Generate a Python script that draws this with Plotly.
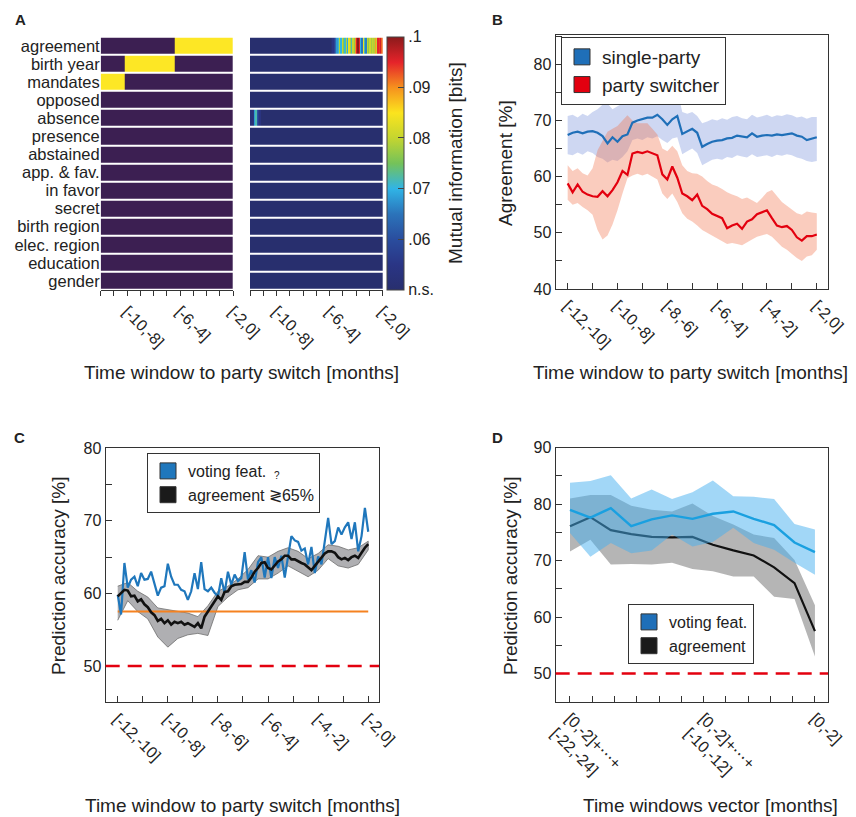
import plotly.graph_objects as go

W, H = 856, 817
OFF = 8  # the page places the figure 8 px in from the top-left corner
def fx(p): return (p - OFF) / W
def fy(p): return 1 - (p - OFF) / H

FONT = "Arial, 'Liberation Sans', sans-serif"
AX = "#333333"
TXT = "#222222"

# ---------------- Panel A data ----------------
features = ["agreement", "birth year", "mandates", "opposed", "absence", "presence",
            "abstained", "app. & fav.", "in favor", "secret", "birth region",
            "elec. region", "education", "gender"]
cell_centers = [round(-11.95 + 0.1 * j, 2) for j in range(100)]
# left map: windows (months) where the feature is significant
sig_ranges = {"agreement": (-6.4, -2.0), "birth year": (-10.2, -6.4), "mandates": (-12.0, -10.2)}
# right map: mutual information values [bits]
mi_floor = 0.05
agreement_mi = [0.052, 0.055, 0.058, 0.063, 0.068, 0.071, 0.079, 0.070, 0.080, 0.076,
                0.071, 0.079, 0.069, 0.083, 0.078, 0.072, 0.080, 0.077, 0.090, 0.096,
                0.100, 0.095, 0.070, 0.065, 0.084, 0.072, 0.066, 0.080, 0.077, 0.081,
                0.078, 0.080, 0.079, 0.089, 0.080, 0.095, 0.094, 0.096, 0.092]
absence_mi = [0.052, 0.052, 0.054, 0.068, 0.072, 0.061, 0.057, 0.054]

# ---------------- Panel B data ----------------
months_b = [round(-12 + 0.2 * i, 1) for i in range(51)]
single_mean = [67.4, 67.8, 68.0, 67.7, 68.0, 68.1, 67.8, 67.2, 65.9, 67.0,
               66.2, 67.2, 67.5, 69.6, 70.0, 70.3, 70.5, 70.5, 71.0, 70.2,
               69.2, 70.2, 70.8, 67.6, 68.0, 68.5, 67.8, 65.3, 65.8, 66.2,
               66.4, 66.5, 66.8, 66.9, 67.3, 67.2, 67.0, 67.7, 67.1, 67.3,
               67.4, 67.3, 67.5, 67.4, 67.6, 67.7, 67.3, 67.1, 66.5, 66.8, 67.0]
single_up = [70.8, 71.0, 70.5, 71.2, 70.8, 71.5, 72.0, 72.8, 73.0, 72.0,
             72.5, 73.0, 74.5, 75.0, 75.3, 75.0, 75.5, 75.2, 75.8, 75.0,
             74.5, 75.3, 75.5, 71.5, 71.2, 71.5, 70.8, 69.5, 69.8, 70.2,
             70.0, 70.4, 70.1, 70.6, 70.8, 70.4, 70.2, 71.0, 70.5, 70.8,
             71.0, 70.6, 70.9, 70.8, 71.1, 70.9, 70.5, 70.7, 70.3, 70.6, 70.6]
single_lo = [64.0, 63.8, 64.3, 63.9, 64.5, 64.2, 63.5, 63.2, 62.5, 63.0,
             62.8, 63.5, 64.5, 66.5, 66.8, 66.5, 67.0, 66.8, 67.2, 66.5,
             66.0, 66.8, 67.0, 64.0, 64.5, 65.0, 64.2, 62.0, 62.5, 63.0,
             63.2, 63.0, 63.5, 63.3, 63.8, 63.6, 63.4, 64.0, 63.5, 63.7,
             63.8, 63.5, 63.9, 63.7, 64.0, 63.8, 63.4, 63.2, 62.8, 62.6, 62.8]
switch_mean = [58.8, 57.2, 58.6, 57.3, 56.8, 56.5, 56.4, 57.4, 56.5, 57.6,
               59.0, 61.0, 60.3, 64.1, 64.4, 64.2, 64.5, 64.1, 63.8, 60.4,
               59.5, 61.8, 59.8, 57.0, 56.5, 55.8, 56.8, 54.8, 54.2, 53.4,
               53.0, 52.6, 50.8, 51.3, 51.6, 50.7, 52.0, 52.4, 53.3, 53.7,
               54.0, 52.6, 51.3, 51.0, 51.2, 50.5, 49.2, 48.6, 49.4, 49.4, 49.7]
switch_up = [62.0, 61.0, 61.5, 60.6, 60.2, 61.5, 64.7, 66.5, 68.0, 68.5,
             69.0, 70.0, 70.9, 70.0, 69.5, 69.5, 69.5, 68.5, 67.5, 65.0,
             64.5, 65.5, 64.5, 62.0, 61.0, 60.6, 60.5, 60.0, 59.2, 58.6,
             58.3, 57.8, 57.2, 56.8, 56.5, 56.0, 56.3, 55.8, 55.3, 56.2,
             57.2, 57.6, 56.5, 55.5, 54.8, 54.1, 53.5, 53.2, 53.8, 53.6, 53.5]
switch_lo = [55.9, 55.0, 55.3, 54.6, 54.0, 53.2, 50.5, 48.8, 49.5, 51.5,
             54.0, 57.0, 59.7, 60.2, 60.5, 60.2, 60.5, 60.0, 59.5, 57.0,
             56.0, 57.0, 55.5, 53.5, 52.5, 52.0, 51.3, 50.5, 49.9, 49.5,
             49.0, 48.5, 48.0, 48.2, 48.0, 47.8, 48.3, 48.8, 49.3, 49.6,
             49.8, 49.3, 48.5, 47.5, 47.0, 46.3, 45.5, 45.0, 45.8, 46.0, 47.0]

# ---------------- Panel C data ----------------
months_c = [round(-12 + i * 10 / 75, 3) for i in range(76)]
voting_acc = [59.8, 57.1, 64.2, 60.8, 61.9, 62.3, 61.0, 62.8, 61.9, 62.0,
              63.0, 61.5, 59.7, 60.8, 61.0, 64.1, 62.3, 61.2, 61.2, 60.5,
              60.3, 59.1, 60.3, 62.8, 60.6, 64.3, 60.6, 60.3, 60.8, 60.1,
              59.6, 62.1, 60.1, 63.0, 61.2, 62.6, 61.7, 62.1, 65.7, 61.9,
              63.2, 61.5, 64.3, 65.0, 62.2, 65.0, 62.1, 65.0, 63.5, 65.2,
              62.2, 65.1, 67.9, 67.3, 67.1, 65.9, 66.2, 64.0, 66.4, 62.8,
              65.1, 64.0, 67.4, 70.4, 66.8, 67.2, 69.1, 68.1, 69.1, 69.8,
              67.5, 69.8, 65.8, 67.9, 71.8, 68.5]
agree_acc = [59.6, 60.0, 60.5, 60.4, 59.6, 59.7, 58.9, 59.2, 58.5, 58.1,
             57.4, 57.0, 56.2, 56.5, 55.9, 56.3, 55.7, 56.1, 55.9, 56.1,
             55.7, 55.9, 55.7, 55.4, 55.9, 55.2, 56.8, 57.5, 58.3, 59.0,
             59.6, 59.1, 60.2, 60.3, 61.0, 61.2, 61.2, 61.3, 61.6, 61.6,
             62.2, 63.0, 63.5, 64.2, 64.3, 63.5, 63.3, 63.8, 64.4, 64.7,
             65.2, 65.2, 64.7, 64.7, 64.4, 64.2, 64.0, 63.6, 63.2, 63.8,
             64.4, 64.9, 65.5, 65.8, 65.8, 65.6, 65.0, 64.7, 64.9, 64.6,
             65.0, 65.2, 64.9, 65.6, 66.3, 66.8]
months_c_band = [round(-12 + 0.4 * i, 1) for i in range(26)]
agree_acc_up = [61.0, 61.5, 60.3, 59.5, 58.0, 57.8, 57.5, 57.3, 56.8, 58.3,
                60.3, 61.0, 62.0, 63.3, 65.2, 65.0, 65.8, 66.3, 65.8, 64.8,
                65.5, 66.7, 66.5, 66.0, 66.3, 67.2]
agree_acc_lo = [56.3, 59.0, 57.5, 56.5, 54.0, 52.6, 53.8, 54.3, 54.5, 54.2,
                58.2, 59.5, 60.5, 60.8, 62.0, 62.0, 62.8, 63.8, 63.0, 62.3,
                63.2, 64.8, 63.8, 63.5, 64.0, 66.0]
baseline_c = 57.5
chance = 50

# ---------------- Panel D data ----------------
vec_idx = list(range(13))
voting_vec = [79.0, 77.6, 79.3, 76.1, 77.3, 78.0, 77.4, 78.3, 78.7, 77.4, 76.3, 73.2, 71.5]
voting_vec_up = [83.8, 84.1, 85.1, 81.0, 82.6, 80.9, 82.1, 84.2, 81.4, 81.3, 80.9, 76.5, 75.5]
voting_vec_lo = [74.9, 70.7, 73.1, 71.3, 71.8, 74.6, 72.5, 73.3, 75.8, 73.1, 71.9, 69.6, 67.5]
agree_vec = [76.1, 77.7, 75.4, 74.7, 74.2, 74.1, 74.2, 72.8, 71.8, 70.9, 68.8, 66.0, 57.5]
agree_vec_up = [81.0, 81.6, 81.6, 79.7, 79.0, 78.7, 80.1, 77.9, 76.4, 74.6, 74.0, 70.1, 62.1]
agree_vec_lo = [71.6, 73.7, 69.3, 69.4, 69.3, 69.6, 68.5, 68.1, 67.2, 67.2, 63.6, 63.2, 53.0]
vec_tick_text = ["[0,-2]+⋯+<br>[-22,-24]", "", "", "", "", "",
                 "[0,-2]+⋯+<br>[-10,-12]", "", "", "", "", "[0,-2]"]

# ---------------- build figure ----------------
z_left, z_right = [], []
for f in features:
    rng = sig_ranges.get(f)
    z_left.append([1 if rng and rng[0] <= c < rng[1] else 0 for c in cell_centers])
    row = [mi_floor] * len(cell_centers)
    if f == "agreement":
        row[len(row) - len(agreement_mi):] = agreement_mi
    if f == "absence":
        row[:len(absence_mi)] = absence_mi
    z_right.append(row)

jet = [[0.0, "#282f6e"], [0.1, "#2a3585"], [0.2, "#2a4d9e"], [0.3, "#2b73ba"],
       [0.4, "#30b4e6"], [0.5, "#74c25a"], [0.6, "#c4d530"], [0.7, "#fbe41e"],
       [0.8, "#f6911e"], [0.9, "#e5232a"], [1.0, "#8b1a1b"]]

fig = go.Figure()
fig.add_trace(go.Heatmap(z=z_left, x=cell_centers, y=features, xaxis="x", yaxis="y",
                         colorscale=[[0, "#3c1f52"], [1, "#fde725"]], zmin=0, zmax=1,
                         showscale=False, ygap=2, hoverinfo="skip"))
fig.add_trace(go.Heatmap(z=z_right, x=cell_centers, y=features, xaxis="x2", yaxis="y2",
                         colorscale=jet, zmin=0.05, zmax=0.1, ygap=2, hoverinfo="skip",
                         colorbar=dict(x=fx(386.7), xanchor="left", xpad=0, y=fy(36.7),
                                       yanchor="top", ypad=0, len=(290 - 36.7) / H,
                                       thickness=17, outlinecolor="#444", outlinewidth=1,
                                       ticks="inside", ticklen=6, tickcolor="#444",
                                       tickvals=[0.05, 0.06, 0.07, 0.08, 0.09, 0.1],
                                       ticktext=["n.s.", ".06", ".07", ".08", ".09", ".1"],
                                       tickfont=dict(size=16, color=TXT))))

def band(x, up, lo, color, xa, ya, line=None):
    return go.Scatter(x=list(x) + list(x)[::-1], y=list(up) + list(lo)[::-1], fill="toself",
                      fillcolor=color, line=line or dict(width=0), mode="lines",
                      xaxis=xa, yaxis=ya, showlegend=False, hoverinfo="skip")

def legend_item(name, color, leg, xa, ya):
    return go.Scatter(x=[None], y=[None], mode="markers", name=name, legend=leg,
                      marker=dict(symbol="square", size=16, color=color,
                                  line=dict(color="#333", width=1)),
                      xaxis=xa, yaxis=ya, showlegend=True)

# Panel B
fig.add_trace(band(months_b, single_up, single_lo, "rgba(80,110,210,0.28)", "x3", "y3"))
fig.add_trace(band(months_b, switch_up, switch_lo, "rgba(240,110,70,0.35)", "x3", "y3"))
fig.add_trace(go.Scatter(x=months_b, y=single_mean, mode="lines", line=dict(color="#1f6fb8", width=2.2),
                         xaxis="x3", yaxis="y3", showlegend=False))
fig.add_trace(go.Scatter(x=months_b, y=switch_mean, mode="lines", line=dict(color="#e3000f", width=2.2),
                         xaxis="x3", yaxis="y3", showlegend=False))
fig.add_trace(legend_item("single-party", "#1f6fb8", "legend", "x3", "y3"))
fig.add_trace(legend_item("party switcher", "#e3000f", "legend", "x3", "y3"))

# Panel C
fig.add_trace(band(months_c_band, agree_acc_up, agree_acc_lo, "rgba(110,110,115,0.55)", "x4", "y4",
                   line=dict(color="rgba(110,110,110,0.8)", width=1)))
fig.add_trace(go.Scatter(x=[months_c[0], months_c[-1]], y=[baseline_c, baseline_c], mode="lines",
                         line=dict(color="#f58220", width=2), xaxis="x4", yaxis="y4", showlegend=False))
fig.add_trace(go.Scatter(x=months_c, y=voting_acc, mode="lines", line=dict(color="#1f77bc", width=2.2),
                         xaxis="x4", yaxis="y4", showlegend=False))
fig.add_trace(go.Scatter(x=months_c, y=agree_acc, mode="lines", line=dict(color="#111111", width=2.6),
                         xaxis="x4", yaxis="y4", showlegend=False))
fig.add_trace(legend_item("voting feat.", "#1f77bc", "legend2", "x4", "y4"))
fig.add_trace(legend_item("agreement ≷65%", "#1a1a1a", "legend2", "x4", "y4"))

# Panel D
fig.add_trace(band(vec_idx, agree_vec_up, agree_vec_lo, "rgba(120,120,120,0.55)", "x5", "y5"))
fig.add_trace(go.Scatter(x=vec_idx, y=agree_vec, mode="lines", line=dict(color="#111111", width=2.2),
                         xaxis="x5", yaxis="y5", showlegend=False))
fig.add_trace(band(vec_idx, voting_vec_up, voting_vec_lo, "rgba(70,175,240,0.5)", "x5", "y5"))
fig.add_trace(go.Scatter(x=vec_idx, y=voting_vec, mode="lines", line=dict(color="#1aa0e0", width=2.4),
                         xaxis="x5", yaxis="y5", showlegend=False))
fig.add_trace(legend_item("voting feat.", "#1f6fb8", "legend3", "x5", "y5"))
fig.add_trace(legend_item("agreement", "#1a1a1a", "legend3", "x5", "y5"))

# ---------------- axes ----------------
heat_ticks = list(range(-12, -1))
heat_text = [f"[{m},{m + 2}]" if m in (-10, -6, -2) else "" for m in heat_ticks]
month_text = [f"[{m},{m + 2}]" if m % 2 == 0 else "" for m in heat_ticks]

def heat_x(dom, anchor):
    return dict(domain=dom, anchor=anchor, range=[-12, -2], tickvals=heat_ticks, ticktext=heat_text,
                tickangle=45, ticks="outside", ticklen=5, tickcolor=AX, showline=True,
                linecolor=AX, linewidth=1, showgrid=False, zeroline=False,
                tickfont=dict(size=16, color=TXT))

def box_axis(dom, anchor, **kw):
    d = dict(domain=dom, anchor=anchor, showline=True, mirror=True, linecolor=AX, linewidth=1.3,
             ticks="inside", ticklen=6, tickcolor=AX, showgrid=False, zeroline=False,
             tickfont=dict(size=16, color=TXT))
    d.update(kw)
    return d

y_b = list(range(40, 86, 5))
y_c = list(range(45, 81, 5))
y_d = list(range(45, 91, 5))
lab = lambda vals: [str(v) if v % 10 == 0 else "" for v in vals]

fig.update_layout(
    width=W, height=H, margin=dict(l=0, r=0, t=0, b=0, autoexpand=False),
    paper_bgcolor="white", plot_bgcolor="white",
    font=dict(family=FONT, color=TXT),
    xaxis=heat_x([fx(100.7), fx(233)], "y"),
    yaxis=dict(domain=[fy(290), fy(36.7)], anchor="x", autorange="reversed", ticks="",
               tickmode="array", tickvals=features, ticktext=features,
               showgrid=False, zeroline=False, tickfont=dict(size=16.5, color=TXT)),
    xaxis2=heat_x([fx(250), fx(382.7)], "y2"),
    yaxis2=dict(domain=[fy(290), fy(36.7)], anchor="x2", autorange="reversed", ticks="",
                showticklabels=False, showgrid=False, zeroline=False),
    xaxis3=box_axis([fx(555.7), fx(828)], "y3", range=[-12.48, -1.55], tickvals=heat_ticks,
                    ticktext=month_text, tickangle=45),
    yaxis3=box_axis([fy(289), fy(35)], "x3", range=[40, 85.2], tickvals=y_b, ticktext=lab(y_b)),
    xaxis4=box_axis([fx(105.7), fx(379)], "y4", range=[-12.48, -1.57], tickvals=heat_ticks,
                    ticktext=month_text, tickangle=45),
    yaxis4=box_axis([fy(702.3), fy(448.3)], "x4", range=[45, 80], tickvals=y_c, ticktext=lab(y_c)),
    xaxis5=box_axis([fx(555.7), fx(828)], "y5", range=[-0.70, 12.64],
                    tickvals=[k * 12 / 11 for k in range(12)], ticktext=vec_tick_text, tickangle=45),
    yaxis5=box_axis([fy(701.7), fy(447.7)], "x5", range=[45, 90], tickvals=y_d, ticktext=lab(y_d)),
    legend=dict(x=fx(561), y=fy(37), xanchor="left", yanchor="top", bgcolor="white",
                bordercolor="#333", borderwidth=1, font=dict(size=19, color=TXT)),
    legend2=dict(x=fx(147), y=fy(453), xanchor="left", yanchor="top", bgcolor="white",
                 bordercolor="#333", borderwidth=1, font=dict(size=16, color=TXT)),
    legend3=dict(x=fx(628), y=fy(604), xanchor="left", yanchor="top", bgcolor="white",
                 bordercolor="#333", borderwidth=1, font=dict(size=16, color=TXT)),
    shapes=[
        dict(type="line", xref="x4 domain", x0=0, x1=1, yref="y4", y0=chance, y1=chance,
             line=dict(color="#e3000f", width=2.5, dash="14px,8px")),
        dict(type="line", xref="x5 domain", x0=0, x1=1, yref="y5", y0=chance, y1=chance,
             line=dict(color="#e3000f", width=2.5, dash="14px,8px")),
    ],
)

ann = []
def text(x, y, s, size=19, angle=0, bold=False, xanchor="center", yanchor="middle"):
    ann.append(dict(x=fx(x), y=fy(y), xref="paper", yref="paper", text=f"<b>{s}</b>" if bold else s,
                    showarrow=False, textangle=angle, xanchor=xanchor, yanchor=yanchor,
                    font=dict(size=size, color=TXT, family=FONT)))

text(13, 20, "A", 15, bold=True, xanchor="left")
text(490, 19, "B", 15, bold=True, xanchor="left")
text(12, 437, "C", 15, bold=True, xanchor="left")
text(490, 437, "D", 15, bold=True, xanchor="left")
text(455, 163, "Mutual information [bits]", angle=-90)
text(241, 372, "Time window to party switch [months]")
text(690, 372, "Time window to party switch [months]")
text(505, 163, "Agreement [%]", angle=-90)
text(242, 805, "Time window to party switch [months]")
text(58, 576, "Prediction accuracy [%]", angle=-90)
text(510, 576, "Prediction accuracy [%]", angle=-90)
text(710, 805, "Time windows vector [months]")
text(277, 475, "?", 10)
fig.update_layout(annotations=ann)

fig.write_html("out.html")
